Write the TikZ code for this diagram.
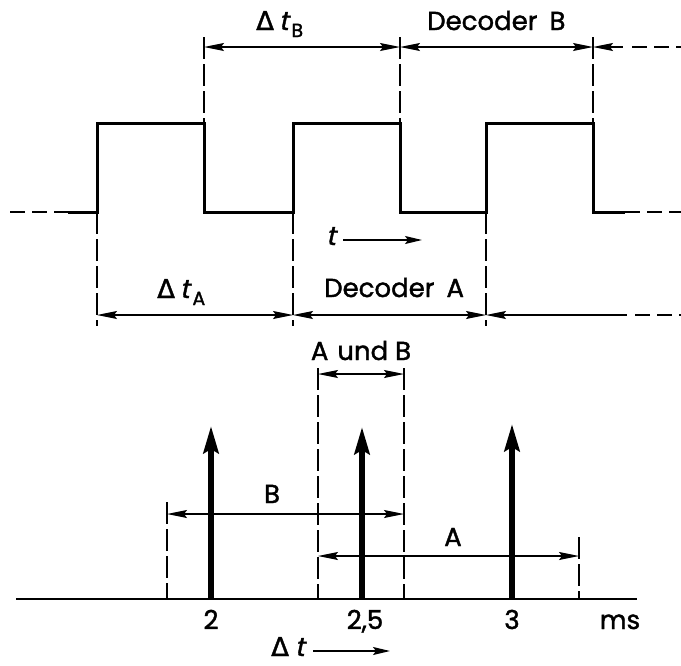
\documentclass[tikz,border=0pt]{standalone}
\usepackage{fontspec}
\setmainfont[FakeBold=1.5]{Poppins}
\newfontfamily\dsym[FakeBold=1.5]{DejaVu Sans}
\newfontfamily\ifont[FakeSlant=0.22,FakeBold=1.5]{Poppins}
\usetikzlibrary{arrows.meta}
\tikzset{
  dt/.tip={Stealth[length=20pt,width=8pt,inset=3pt]},
  wave/.style={line width=3pt, line join=miter, line cap=butt},
  dimline/.style={line width=1.3pt},
  guide/.style={line width=1.2pt, dash pattern=on 22pt off 5pt},
  hdash/.style={line width=1.3pt, dash pattern=on 15pt off 7pt},
  imp/.style={line width=6pt, -{Stealth[length=27pt,width=15pt,inset=4pt]}},
  lab/.style={font=\fontsize{26}{30}\selectfont, inner sep=0pt},
  tarrow/.style={line width=1.3pt, -{Stealth[length=17pt,width=8pt,inset=3pt]}},
}
\newcommand{\subB}[1]{\hspace{3pt}\raisebox{-7pt}{\fontsize{19}{22}\selectfont #1}}
\newcommand{\dlt}{{\dsym Δ}}
\begin{document}
\begin{tikzpicture}[x=1pt,y=-1pt]
\coordinate (bb1) at (0,0);
\coordinate (bb2) at (681,665);
\useasboundingbox (bb1) rectangle (bb2);

% waveform
\coordinate (w0) at (10,212);
\coordinate (w1) at (68,212);
\coordinate (w2) at (97,212);
\coordinate (w3) at (97,123);
\coordinate (w4) at (204,123);
\coordinate (w5) at (204,212);
\coordinate (w6) at (293,212);
\coordinate (w7) at (293,123);
\coordinate (w8) at (400,123);
\coordinate (w9) at (400,212);
\coordinate (w10) at (486,212);
\coordinate (w11) at (486,123);
\coordinate (w12) at (593,123);
\coordinate (w13) at (593,212);
\coordinate (w14) at (625,212);
\coordinate (w15) at (681,212);
\draw[hdash] (w0) -- (w1);
\draw[wave] (w1) -- (w2) -- (w3) -- (w4) -- (w5) -- (w6) -- (w7) -- (w8) -- (w9) -- (w10) -- (w11) -- (w12) -- (w13) -- (w14);
\draw[hdash] (w14) -- (w15);

% top guides and dimension line
\coordinate (tg1) at (204,37);
\coordinate (tg2) at (400,37);
\coordinate (tg3) at (593,37);
\draw[guide] (tg1) -- (w4);
\draw[guide] (tg2) -- (w8);
\draw[guide] (tg3) -- (w12);
\coordinate (tb1) at (204,47);
\coordinate (tb2) at (400,47);
\coordinate (tb3) at (593,47);
\coordinate (tb4) at (623,47);
\coordinate (tb5) at (632,47);
\coordinate (tb6) at (681,47);
\draw[dimline, {dt}-{dt}] (tb1) -- (tb2);
\draw[dimline, {dt}-{dt}] (tb2) -- (tb3);
\draw[dimline, {dt}-] (tb3) -- (tb4);
\draw[hdash] (tb5) -- (tb6);

% bottom guides and dimension line
\coordinate (bg1) at (97,326);
\coordinate (bg2) at (293,326);
\coordinate (bg3) at (486,326);
\draw[guide] (w2) -- (bg1);
\draw[guide] (w6) -- (bg2);
\draw[guide] (w10) -- (bg3);
\coordinate (ba1) at (97,315);
\coordinate (ba2) at (293,315);
\coordinate (ba3) at (486,315);
\coordinate (ba4) at (627,315);
\coordinate (ba5) at (635,315);
\coordinate (ba6) at (681,315);
\draw[dimline, {dt}-{dt}] (ba1) -- (ba2);
\draw[dimline, {dt}-{dt}] (ba2) -- (ba3);
\draw[dimline, {dt}-] (ba3) -- (ba4);
\draw[hdash] (ba5) -- (ba6);

% t arrow
\coordinate (ta0) at (343,240);
\coordinate (ta1) at (422,240);
\draw[tarrow] (ta0) -- (ta1);

% labels top
\node[lab, anchor=base west] (ldtb) at (256,30) {\dlt\hspace{5pt}{\ifont t}\subB{B}};
\node[lab, anchor=base west] (ldecb) at (427,30) {Decoder\hspace{12pt}B};
\node[lab, anchor=base west] (ldta) at (157,298) {\dlt\hspace{5pt}{\ifont t}\subB{A}};
\node[lab, anchor=base west] (ldeca) at (324,297) {Decoder\hspace{12pt}A};
\node[lab, anchor=base west] (lt) at (326,245) {\ifont t};

% lower part
\coordinate (ax0) at (16,599);
\coordinate (ax1) at (637,599);
\draw[line width=2pt] (ax0) -- (ax1);

\coordinate (g1t) at (318,368);
\coordinate (g1b) at (318,599);
\coordinate (g2t) at (404,368);
\coordinate (g2b) at (404,599);
\draw[guide] (g1t) -- (g1b);
\draw[guide] (g2t) -- (g2b);
\coordinate (ab1) at (318,374);
\coordinate (ab2) at (404,374);
\draw[dimline, {dt}-{dt}] (ab1) -- (ab2);
\node[lab, anchor=base] (lab) at (361,360) {A\hspace{2pt} und B};

\coordinate (gbt) at (167,502);
\coordinate (gbb) at (167,599);
\draw[guide] (gbt) -- (gbb);
\coordinate (gat) at (579,537);
\coordinate (gab) at (579,599);
\draw[guide] (gat) -- (gab);

\coordinate (bb1a) at (167,514);
\coordinate (bb2a) at (404,514);
\draw[dimline, {dt}-{dt}] (bb1a) -- (bb2a);
\node[lab, anchor=base] (lB) at (272,503) {B};

\coordinate (aa1) at (318,556);
\coordinate (aa2) at (579,556);
\draw[dimline, {dt}-{dt}] (aa1) -- (aa2);
\node[lab, anchor=base] (lA) at (453,546) {A};

% impulses
\coordinate (i1b) at (211,599);
\coordinate (i1t) at (211,426);
\coordinate (i2b) at (362,599);
\coordinate (i2t) at (362,427);
\coordinate (i3b) at (512,599);
\coordinate (i3t) at (512,424);
\draw[imp] (i1b) -- (i1t);
\draw[imp] (i2b) -- (i2t);
\draw[imp] (i3b) -- (i3t);

\node[lab, anchor=base] (l2) at (211,629) {2};
\node[lab, anchor=base] (l25) at (365,629) {2,5};
\node[lab, anchor=base] (l3) at (512,629) {3};
\node[lab, anchor=base] (lms) at (620,629) {ms};

\node[lab, anchor=base west] (ldt) at (271,656) {\dlt\hspace{6pt}{\ifont t}};
\coordinate (da0) at (313,651);
\coordinate (da1) at (390,651);
\draw[tarrow] (da0) -- (da1);
\end{tikzpicture}
\end{document}
